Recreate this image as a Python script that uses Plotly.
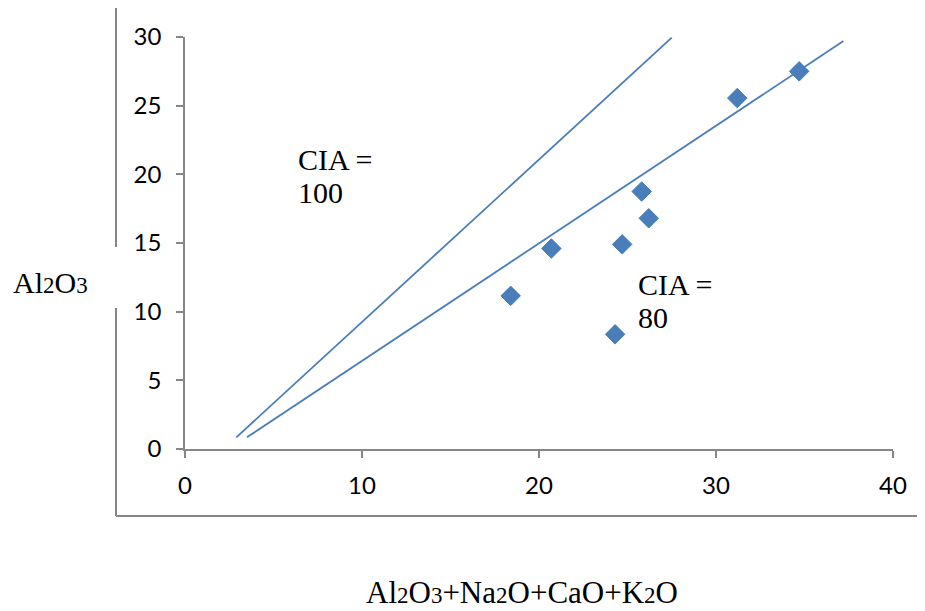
import plotly.graph_objects as go

# ---- data ----
sample_x = [18.4, 20.7, 24.3, 24.7, 25.8, 26.2, 31.2, 34.7]
sample_y = [11.15, 14.6, 8.35, 14.9, 18.75, 16.8, 25.55, 27.5]

cia100_x = [2.9, 27.5]
cia100_y = [0.85, 29.95]

cia80_x = [3.5, 37.2]
cia80_y = [0.85, 29.7]

x_ticks = [0, 10, 20, 30, 40]
y_ticks = [0, 5, 10, 15, 20, 25, 30]

BLUE = "#4a7ebb"
GRAY = "#868686"
SERIF = "Liberation Serif, Times New Roman, serif"
SANS = "Lato, Liberation Sans, sans-serif"

fig = go.Figure()
fig.add_trace(go.Scatter(x=cia100_x, y=cia100_y, mode="lines",
                         line=dict(color=BLUE, width=1.8), showlegend=False))
fig.add_trace(go.Scatter(x=cia80_x, y=cia80_y, mode="lines",
                         line=dict(color=BLUE, width=1.8), showlegend=False))
fig.add_trace(go.Scatter(x=sample_x, y=sample_y, mode="markers",
                         marker=dict(symbol="diamond", size=15, color=BLUE,
                                     line=dict(color=BLUE, width=1)),
                         showlegend=False))

# page has an 8px body margin: shift everything by -8 px
OFF = 8
W, H = 925 - OFF, 611 - OFF
L, R, T, B = 185 - OFF, 32, 37 - OFF, 162
pw, ph = W - L - R, H - T - B


def px(xp):
    return (xp - OFF - L) / pw


def py(yp):
    return (H - B - (yp - OFF)) / ph


sub = "<span style='font-size:23px'>{}</span>"
ann = []
# axis titles
ann.append(dict(x=px(50), y=py(282), xref="paper", yref="paper",
                text="Al" + sub.format("2") + "O" + sub.format("3"),
                showarrow=False, xanchor="center", yanchor="middle",
                font=dict(family=SERIF, size=30, color="black")))
ann.append(dict(x=px(522), y=py(592), xref="paper", yref="paper",
                text="Al" + sub.format("2") + "O" + sub.format("3") + "+Na" + sub.format("2")
                + "O+CaO+K" + sub.format("2") + "O",
                showarrow=False, xanchor="center", yanchor="middle",
                font=dict(family=SERIF, size=31, color="black")))
# CIA labels
for xx, yy, t in [(6.25, 21.1, "CIA ="), (6.25, 18.65, "100"),
                  (25.5, 11.95, "CIA ="), (25.5, 9.55, "80")]:
    ann.append(dict(x=xx, y=yy, xref="x", yref="y", text=t, showarrow=False,
                    xanchor="left", yanchor="middle",
                    font=dict(family=SERIF, size=30, color="black")))

shapes = []
line_style = dict(color=GRAY, width=2)
# outer frame (top, bottom, left with gap)
shapes.append(dict(type="line", xref="paper", yref="paper",
                   x0=px(116), x1=px(926), y0=py(7), y1=py(7), line=line_style))
shapes.append(dict(type="line", xref="paper", yref="paper",
                   x0=px(116), x1=px(926), y0=py(516), y1=py(516), line=line_style))
shapes.append(dict(type="line", xref="paper", yref="paper",
                   x0=px(116), x1=px(116), y0=py(7), y1=py(247), line=line_style))
shapes.append(dict(type="line", xref="paper", yref="paper",
                   x0=px(116), x1=px(116), y0=py(308), y1=py(516), line=line_style))

fig.update_layout(
    width=W, height=H,
    margin=dict(l=L, r=R, t=T, b=B),
    paper_bgcolor="white", plot_bgcolor="white",
    annotations=ann, shapes=shapes,
    xaxis=dict(range=[0, 40], tickvals=x_ticks, ticks="outside", ticklen=7,
               tickwidth=1.5, tickcolor=GRAY, showline=True, linecolor=GRAY,
               linewidth=1.5, showgrid=False, zeroline=False,
               tickfont=dict(family=SANS, size=24, color="black"),
               ticklabelstandoff=7),
    yaxis=dict(range=[0, 30], tickvals=y_ticks, ticks="outside", ticklen=7,
               tickwidth=1.5, tickcolor=GRAY, showline=True, linecolor=GRAY,
               linewidth=1.5, showgrid=False, zeroline=False,
               tickfont=dict(family=SANS, size=24, color="black"),
               ticklabelstandoff=10),
)

fig.write_html("out.html")
